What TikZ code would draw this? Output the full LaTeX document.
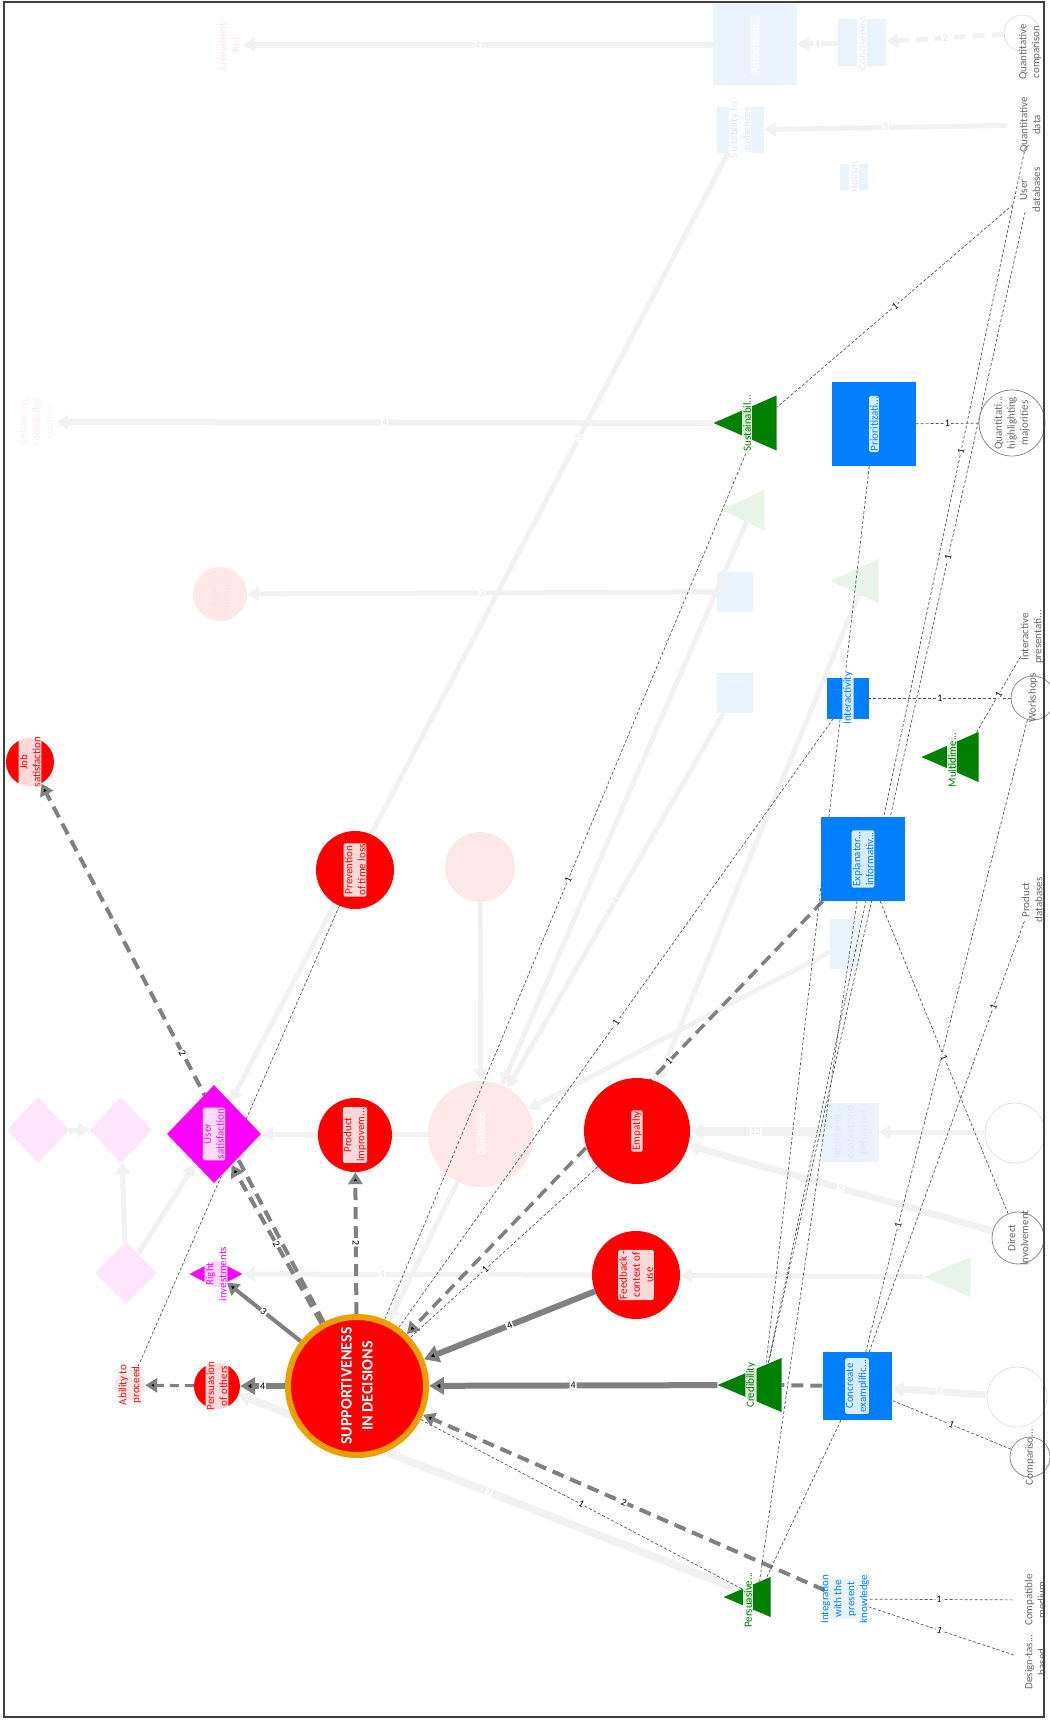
\documentclass[tikz,border=0pt]{standalone}
\usepackage{fontspec}
\setmainfont{Carlito}
\usetikzlibrary{arrows.meta,shapes.geometric}

\definecolor{critred}{RGB}{255,0,0}
\definecolor{ringorange}{RGB}{235,160,0}
\definecolor{attrblue}{RGB}{0,128,255}
\definecolor{consgreen}{RGB}{0,128,0}
\definecolor{goalpink}{RGB}{255,0,255}
\definecolor{linkgray}{RGB}{128,128,128}
\definecolor{thingray}{RGB}{85,85,85}
\definecolor{srcgray}{RGB}{105,105,105}
\definecolor{srcline}{RGB}{140,140,140}
\definecolor{fadered}{RGB}{253,232,232}
\definecolor{fadeblue}{RGB}{234,243,253}
\definecolor{fadegreen}{RGB}{232,244,232}
\definecolor{fadepink}{RGB}{253,230,253}
\definecolor{fadeline}{RGB}{241,241,241}
\definecolor{fadetext}{RGB}{225,225,225}

\pgfdeclarelayer{faded}
\pgfdeclarelayer{links}
\pgfsetlayers{faded,links,main}

\tikzstyle{crit}=[circle,fill=critred,inner sep=0pt]
\tikzstyle{goal}=[diamond,fill=goalpink,inner sep=0pt]
\tikzstyle{attr}=[rectangle,fill=attrblue,inner sep=0pt]
\tikzstyle{cons}=[isosceles triangle,isosceles triangle stretches,shape border rotate=180,fill=consgreen,inner sep=0pt,anchor=apex]
\tikzstyle{src}=[circle,draw=srcline,line width=0.8pt,inner sep=0pt,minimum size=44pt]
\tikzstyle{tag}=[rotate=90,align=center,inner sep=1pt,rounded corners=1.5pt,fill=white,fill opacity=0.85,text opacity=1,font=\fontsize{11}{13}\selectfont]
\tikzstyle{srctext}=[rotate=90,align=center,text=srcgray,font=\fontsize{11}{13}\selectfont]
\tikzstyle{num}=[sloped,fill=white,inner sep=1pt,text=black,font=\fontsize{10}{10}\selectfont]
\tikzstyle{heavy}=[draw=linkgray,line width=6pt,>={Triangle[length=15pt,width=17pt]}]
\tikzstyle{medium}=[draw=linkgray,line width=4pt,>={Triangle[length=12pt,width=14pt]}]
\tikzstyle{dashy}=[medium,dash pattern=on 12pt off 7pt]
\tikzstyle{weak}=[draw=thingray,line width=0.7pt,dash pattern=on 3pt off 2pt]
\tikzstyle{faint}=[draw=fadeline,line width=5pt,>={Triangle[length=12pt,width=14pt,color=fadeline]}]
\tikzstyle{faintnum}=[sloped,fill=white,inner sep=1pt,text=fadetext,font=\fontsize{10}{10}\selectfont]

\begin{document}
\begin{tikzpicture}[x=1pt,y=-1pt]
\useasboundingbox (0,0) rectangle (1049,1720);

% criteria (red circles)
\node[crit,draw=ringorange,line width=6pt,minimum size=138pt] (sup) at (357,1386) {};
\node[rotate=90,align=center,text=white,font=\fontsize{16}{21}\selectfont\bfseries] (sup-t) at (sup) {SUPPORTIVENESS\\IN DECISIONS};
\node[crit,minimum size=46pt] (pers) at (217,1386) {};
\node[tag,text=critred] (pers-t) at (pers) {Persuasion\\of others};
\node[crit,fill=fadered,minimum size=30pt] (abil) at (130,1385) {};
\node[tag,text=critred,fill opacity=0] (abil-t) at (abil) {Ability to\\proceed};
\node[crit,minimum size=74pt] (prod) at (355,1135) {};
\node[tag,text=critred] (prod-t) at (prod) {Product\\improvem...};
\node[crit,minimum size=78pt] (prev) at (355,870) {};
\node[tag,text=critred] (prev-t) at (prev) {Prevention\\of time loss};
\node[crit,minimum size=48pt] (job) at (30,762) {};
\node[tag,text=critred] (job-t) at (job) {Job\\satisfaction};
\node[crit,minimum size=106pt] (emp) at (637,1131) {};
\node[tag,text=critred] (emp-t) at (emp) {Empathy};
\node[crit,minimum size=88pt] (feed) at (636,1275) {};
\node[tag,text=critred] (feed-t) at (feed) {Feedback -\\context of\\use};

% goals (magenta diamonds)
\node[goal,minimum width=53pt,minimum height=28pt] (rinv) at (216,1274) {};
\node[tag,text=goalpink] (rinv-t) at (rinv) {Right\\investments};
\node[goal,minimum width=94pt,minimum height=98pt] (usat) at (214,1134) {};
\node[tag,text=goalpink] (usat-t) at (usat) {User\\satisfaction};

% attributes (blue squares)
\node[attr,minimum width=69pt,minimum height=68pt] (conc) at (857,1386) {};
\node[tag,text=attrblue] (conc-t) at (conc) {Concreate\\examplific...};
\node[attr,minimum size=84pt] (expl) at (863,859) {};
\node[tag,text=attrblue] (expl-t) at (expl) {Explanator...\\informativ...};
\node[attr,minimum width=42pt,minimum height=41pt] (inter) at (848,698) {};
\node[tag,text=attrblue] (inter-t) at (inter) {Interactivity};
\node[attr,minimum size=84pt] (prio) at (874,424) {};
\node[tag,text=attrblue] (prio-t) at (prio) {Prioritizati...};
\node[attr,fill=fadeblue,minimum size=40pt] (integ) at (845,1599) {};
\node[tag,text=attrblue,fill opacity=0] (integ-t) at (integ) {Integration\\with the\\present\\knowledge};

% consequences (green triangles)
\node[cons,minimum width=54pt,minimum height=64pt] (cred) at (717,1385) {};
\node[tag,text=consgreen] (cred-t) at (751,1385) {Credibility};
\node[cons,minimum width=55pt,minimum height=63pt] (sust) at (713,423) {};
\node[tag,text=consgreen] (sust-t) at (747,423) {Sustainabil...};
\node[cons,minimum width=40pt,minimum height=47pt] (persv) at (723,1597) {};
\node[tag,text=consgreen] (persv-t) at (748,1600) {Persuasive...};
\node[cons,minimum width=50pt,minimum height=57pt] (multi) at (921,757) {};
\node[tag,text=consgreen] (multi-t) at (952,760) {Multidime...};

% sources along the right edge
\node[src,draw=white] (qcomp) at (1030,52) {};
\node[srctext] (qcomp-t) at (qcomp) {Quantitative\\comparison};
\node[src,draw=white] (qdata) at (1030,125) {};
\node[srctext] (qdata-t) at (qdata) {Quantitative\\data};
\node[src,draw=white] (userdb) at (1030,190) {};
\node[srctext] (userdb-t) at (userdb) {User\\databases};
\node[src,minimum size=66pt] (qhigh) at (1012,423) {};
\node[srctext] (qhigh-t) at (qhigh) {Quantitati...\\highlighting\\majorities};
\node[src,draw=white] (interpres) at (1032,637) {};
\node[srctext] (interpres-t) at (interpres) {Interactive\\presentati...};
\node[src] (wshop) at (1033,698) {};
\node[srctext] (wshop-t) at (wshop) {Workshops};
\node[src,draw=white] (proddb) at (1032,900) {};
\node[srctext] (proddb-t) at (proddb) {Product\\databases};
\node[src,minimum size=52pt] (direct) at (1018,1238) {};
\node[srctext] (direct-t) at (direct) {Direct\\involvement};
\node[src,minimum size=40pt] (compar) at (1030,1457) {};
\node[srctext] (compar-t) at (compar) {Compariso...};
\node[src,draw=white] (compat) at (1035,1600) {};
\node[srctext] (compat-t) at (compat) {Compatible\\medium};
\node[src,draw=white] (design) at (1035,1662) {};
\node[srctext] (design-t) at (design) {Design-tas...\\based};

% links that belong to the selected criterion
\begin{pgfonlayer}{links}
\draw[->, heavy] (sup) edge node[num] {4} (pers);
\draw[->, medium, line width=3pt, dash pattern=on 9pt off 6pt] (pers) edge (abil);
\draw[->, medium] (sup) edge node[num] {3} (rinv);
\draw[->, dashy] (sup) edge node[num] {2} (usat);
\draw[->, dashy] (sup) edge node[num] {2} (job);
\draw[->, dashy] (sup) edge node[num] {2} (prod);
\draw[->, heavy] (feed) edge node[num] {4} (sup);
\draw[->, heavy] (cred) edge node[num] {4} (sup);
\draw[dashy] (conc) edge (cred);
\draw[->, dashy] (integ) edge node[num] {2} (sup);
\draw[->, dashy, line width=3.5pt] (expl) edge node[num, pos=0.37] {1} (sup);
\draw[weak] (emp) edge node[num, pos=0.6] {1} (sup);
\draw[weak] (persv) edge node[num] {1} (sup);
\draw[weak] (sust) edge node[num] {1} (sup);
\draw[weak] (inter) edge node[num] {1} (sup);
\draw[weak] (abil) edge (prev);
\draw[weak] (userdb) edge node[num] {1} (sust);
\draw[weak] (qhigh) edge node[num] {1} (prio);
\draw[weak] (wshop) edge node[num] {1} (inter);
\draw[weak] (interpres) edge node[num] {1} (multi);
\draw[weak] (prio) edge (cred);
\draw[weak] (userdb) edge node[num, pos=0.3] {1} (cred);
\draw[weak] (qdata) edge node[num, pos=0.25] {1} (cred);
\draw[weak] (wshop) edge node[num, pos=0.8] {1} (conc);
\draw[weak] (proddb) edge node[num, pos=0.2] {1} (conc);
\draw[weak] (expl) edge node[num] {1} (direct);
\draw[weak] (expl) edge (persv);
\draw[weak] (compar) edge node[num] {1} (conc);
\draw[weak] (conc) edge (persv);
\draw[weak] (compat) edge node[num] {1} (integ);
\draw[weak] (design) edge node[num] {1} (integ);
\end{pgfonlayer}

% the rest of the network, greyed out
\begin{pgfonlayer}{faded}
\node[attr,fill=fadeblue,minimum width=84pt,minimum height=81pt] (fattr) at (755,45) {};
\node[tag,text=white,fill opacity=0.4] (fattr-t) at (fattr) {Attractiven...};
\node[attr,fill=fadeblue,minimum width=48pt,minimum height=47pt] (fconc) at (862,43) {};
\node[tag,text=fadeblue!70!blue!30] (fconc-t) at (fconc) {Conciseness};
\node[attr,fill=fadeblue,minimum width=47pt,minimum height=46pt] (fsuit) at (740,130) {};
\node[tag,text=fadeblue!70!blue!30] (fsuit-t) at (fsuit) {Suitability to\\audiences};
\node[attr,fill=fadeblue,minimum width=28pt,minimum height=26pt] (fhol) at (854,177) {};
\node[tag,text=fadeblue!70!blue!30] (fhol-t) at (fhol) {Holism};
\node[attr,fill=fadeblue,minimum width=36pt,minimum height=40pt] (fsq1) at (735,592) {};
\node[attr,fill=fadeblue,minimum width=36pt,minimum height=40pt] (fsq2) at (735,693) {};
\node[attr,fill=fadeblue,minimum width=30pt,minimum height=50pt] (fsq3) at (845,944) {};
\node[attr,fill=fadeblue,minimum width=57pt,minimum height=59pt] (frep) at (850,1132) {};
\node[tag,text=fadeblue!70!blue!30,fill opacity=0] (frep-t) at (frep) {Represent...\\context and\\behaviour};
\node[text=fadered!60!red!25,rotate=90,align=center,font=\fontsize{11}{13}\selectfont] (fenjoy) at (229,45) {Enjoyment/\\fun};
\node[text=fadepink!60!magenta!20,rotate=90,align=center,font=\fontsize{11}{13}\selectfont] (fenh) at (36,422) {Enhancing\\knowledge\\sources};
\node[crit,fill=fadered,minimum size=54pt] (funity) at (220,594) {};
\node[tag,text=fadered!60!red!25,fill opacity=0] (funity-t) at (funity) {Unity in\\communic...};
\node[crit,fill=fadered,minimum size=70pt] (fcirc) at (480,867) {};
\node[crit,fill=fadered,minimum size=106pt] (fguid) at (481,1134) {};
\node[tag,text=white,fill opacity=0.3] (fguid-t) at (fguid) {Guidance};
\node[goal,fill=fadepink,minimum width=62pt,minimum height=66pt] (fdia1) at (38,1130) {};
\node[goal,fill=fadepink,minimum width=62pt,minimum height=66pt] (fdia2) at (121,1130) {};
\node[goal,fill=fadepink,minimum width=62pt,minimum height=62pt] (fdia3) at (126,1273) {};
\node[cons,fill=fadegreen,minimum width=40pt,minimum height=44pt] (ftri1) at (720,510) {};
\node[cons,fill=fadegreen,minimum width=44pt,minimum height=48pt] (ftri2) at (830,581) {};
\node[cons,fill=fadegreen,minimum width=40pt,minimum height=47pt] (fappl) at (923,1277) {};
\node[src,draw=fadetext,minimum size=60pt] (fvideo) at (1015,1133) {};
\node[src,draw=fadetext,minimum size=60pt] (fpres) at (1017,1397) {};
\node[src,draw=fadetext,minimum size=36pt] (fbrief) at (1022,33) {};
\draw[->, faint, line width=6pt] (fattr) edge node[faintnum] {4} (fenjoy);
\draw[->, faint, line width=6pt] (sust) edge node[faintnum] {4} (fenh);
\draw[->, faint] (fsq1) edge node[faintnum] {3} (funity);
\draw[->, faint] (fsuit) edge node[faintnum, pos=0.3] {3} (usat);
\draw[->, faint] (fconc) edge node[faintnum] {4} (fattr);
\draw[->, faint, dash pattern=on 12pt off 7pt] (fbrief) edge node[faintnum] {2} (fconc);
\draw[->, faint] (qdata) edge node[faintnum] {3} (fsuit);
\draw[->, faint, line width=9pt] (frep) edge node[faintnum] {12} (emp);
\draw[->, faint, line width=7pt] (direct) edge node[faintnum] {9} (emp);
\draw[->, faint] (fvideo) edge (frep);
\draw[->, faint, line width=8pt] (persv) edge node[faintnum] {7} (pers);
\draw[->, faint] (feed) edge node[faintnum, pos=0.6] {4} (rinv);
\draw[->, faint] (fsq2) edge node[faintnum] {4} (fguid);
\draw[->, faint] (fcirc) edge (fguid);
\draw[->, faint] (fguid) edge (usat);
\draw[->, faint] (fguid) edge (sup);
\draw[->, faint] (fsq3) edge (fguid);
\draw[->, faint, line width=7pt] (fpres) edge node[faintnum] {6} (conc);
\draw[->, faint] (fappl) edge (feed);
\draw[->, faint] (fdia1) edge (fdia2);
\draw[->, faint] (fdia3) edge (fdia2);
\draw[->, faint] (fdia3) edge (usat);
\draw[->, faint] (ftri1) edge (fguid);
\draw[->, faint] (ftri2) edge (emp);
\end{pgfonlayer}

\draw[line width=1.2pt, black!75] (4,2) rectangle (1044,1717);
\end{tikzpicture}
\end{document}
